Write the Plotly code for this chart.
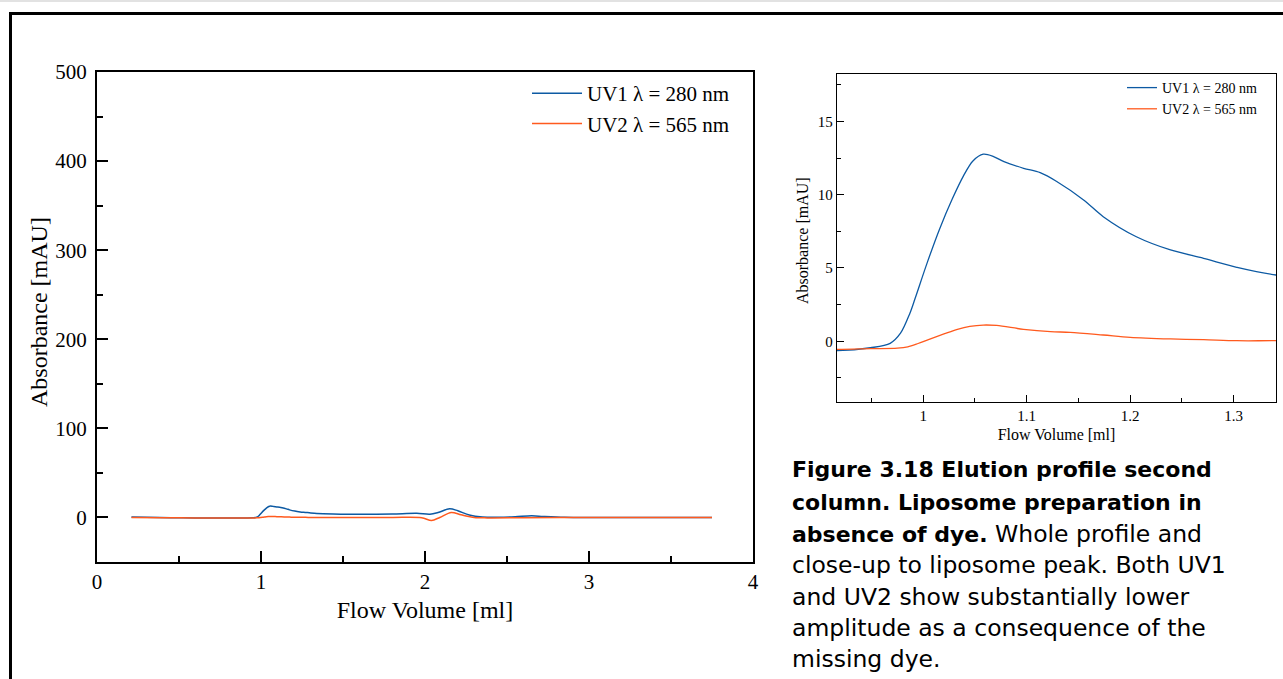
import plotly.graph_objects as go

# ---- data ----
uv1_x = [0.21, 0.30, 0.45, 0.60, 0.75, 0.90, 0.917, 0.949, 0.968, 0.978, 0.987, 0.992,
         1.004, 1.016, 1.028, 1.039, 1.048, 1.058, 1.068, 1.078, 1.097, 1.113, 1.129,
         1.155, 1.174, 1.206, 1.239, 1.271, 1.303, 1.341, 1.44, 1.60, 1.80, 1.95, 2.03,
         2.08, 2.15, 2.20, 2.27, 2.35, 2.45, 2.55, 2.65, 2.72, 2.85, 3.00, 3.30, 3.60, 3.75]
uv1_y = [0.4, 0.1, -0.3, -0.5, -0.6, -0.6, -0.64, -0.44, -0.14, 0.55, 1.9, 2.9,
         5.4, 7.7, 9.7, 11.3, 12.3, 12.76, 12.6, 12.25, 11.8, 11.5, 10.9,
         9.64, 8.5, 7.13, 6.23, 5.66, 5.05, 4.52, 4.0, 3.6, 3.9, 4.6, 3.6,
         5.5, 9.7, 7.5, 2.8, 0.6, 0.3, 0.8, 1.8, 1.2, 0.3, 0.0, -0.1, -0.1, -0.1]

uv2_x = [0.21, 0.40, 0.60, 0.80, 0.917, 0.949, 0.975, 0.985, 0.995, 1.005, 1.020,
         1.033, 1.045, 1.058, 1.071, 1.097, 1.123, 1.142, 1.174, 1.200, 1.239, 1.271,
         1.303, 1.341, 1.50, 1.80, 1.98, 2.04, 2.09, 2.16, 2.22, 2.30, 2.38, 2.60,
         3.00, 3.40, 3.75]
uv2_y = [0.0, -0.3, -0.5, -0.5, -0.55, -0.5, -0.47, -0.38, -0.15, 0.12, 0.5,
         0.82, 1.02, 1.11, 1.08, 0.82, 0.66, 0.61, 0.43, 0.27, 0.16, 0.11,
         0.04, 0.04, 0.0, 0.0, -0.3, -3.4, 0.0, 5.6, 3.0, 0.0, -0.5, -0.3,
         -0.1, -0.1, 0.0]

series_names = ["UV1 λ = 280 nm", "UV2 λ = 565 nm"]
x_title = "Flow Volume [ml]"
y_title = "Absorbance [mAU]"
B = '<span style="font-size:22px"><b>%s</b></span>'
caption_lines = [
    B % "Figure 3.18 Elution profile second",
    B % "column. Liposome preparation in",
    B % "absence of dye." + " Whole profile and",
    "close-up to liposome peak. Both UV1",
    "and UV2 show substantially lower",
    "amplitude as a consequence of the",
    "missing dye.",
]

BLUE = "#0d5aa3"
ORANGE = "#ff5a1e"
W, H = 1283, 679
SERIF = "Liberation Serif, Times New Roman, serif"
SANS = "DejaVu Sans, Liberation Sans, Arial, sans-serif"


def px_x(p):
    return p / W


def px_y(p):
    return (H - p) / H


fig = go.Figure()
for xs, ys, name, col in [(uv1_x, uv1_y, series_names[0], BLUE),
                          (uv2_x, uv2_y, series_names[1], ORANGE)]:
    fig.add_trace(go.Scatter(x=xs, y=ys, name=name, mode="lines",
                             line=dict(color=col, width=1.5, shape="spline", smoothing=0.9),
                             xaxis="x", yaxis="y", legend="legend"))
for xs, ys, name, col in [(uv1_x, uv1_y, series_names[0], BLUE),
                          (uv2_x, uv2_y, series_names[1], ORANGE)]:
    fig.add_trace(go.Scatter(x=xs, y=ys, name=name, mode="lines",
                             line=dict(color=col, width=1.3, shape="spline", smoothing=0.9),
                             xaxis="x2", yaxis="y2", legend="legend2"))

axis_common = dict(showline=True, linecolor="black", mirror=True, ticks="inside",
                   tickcolor="black", showgrid=False, zeroline=False, automargin=False)

fig.update_layout(
    width=W, height=H, autosize=False,
    margin=dict(l=0, r=0, t=0, b=0, pad=0, autoexpand=False),
    paper_bgcolor="white", plot_bgcolor="white",
    font=dict(family=SERIF, color="black"),
    xaxis=dict(domain=[px_x(97), px_x(753)], range=[0, 4], dtick=1, tick0=0,
               linewidth=2, ticklen=11, tickwidth=2,
               minor=dict(ticks="inside", dtick=0.5, ticklen=6, tickwidth=2, tickcolor="black"),
               tickfont=dict(size=21, family=SERIF),
               title=dict(text=x_title, font=dict(size=24, family=SERIF), standoff=8),
               anchor="y", **axis_common),
    yaxis=dict(domain=[px_y(562), px_y(72)], range=[-50, 500], dtick=100, tick0=0,
               linewidth=2, ticklen=11, tickwidth=2,
               minor=dict(ticks="inside", dtick=50, ticklen=6, tickwidth=2, tickcolor="black"),
               tickfont=dict(size=21, family=SERIF), ticklabelstandoff=4,
               anchor="x", **axis_common),
    xaxis2=dict(domain=[px_x(837), px_x(1276)], range=[0.9166, 1.341], dtick=0.1, tick0=1,
                linewidth=1.3, ticklen=7, tickwidth=1.2,
                minor=dict(ticks="inside", dtick=0.05, ticklen=4, tickwidth=1.2, tickcolor="black"),
                tickfont=dict(size=15, family=SERIF),
                title=dict(text=x_title, font=dict(size=16, family=SERIF), standoff=5),
                anchor="y2", **axis_common),
    yaxis2=dict(domain=[px_y(402.3), px_y(74)], range=[-4.16, 18.23], dtick=5, tick0=0,
                linewidth=1.3, ticklen=7, tickwidth=1.2,
                minor=dict(ticks="inside", dtick=2.5, ticklen=4, tickwidth=1.2, tickcolor="black"),
                tickfont=dict(size=15, family=SERIF),
                anchor="x2", **axis_common),
    legend=dict(x=px_x(527), y=px_y(73), xanchor="left", yanchor="top",
                bgcolor="rgba(0,0,0,0)", font=dict(size=21, family=SERIF),
                itemwidth=50, tracegroupgap=0),
    legend2=dict(x=px_x(1122), y=px_y(72), xanchor="left", yanchor="top",
                 bgcolor="rgba(0,0,0,0)", font=dict(size=14, family=SERIF),
                 tracegroupgap=0),
    showlegend=True,
)

# y-axis titles (rotated)
fig.add_annotation(text=y_title, xref="paper", yref="paper", x=px_x(39), y=px_y(312),
                   xanchor="center", yanchor="middle", textangle=-90, showarrow=False,
                   font=dict(size=24, family=SERIF, color="black"))
fig.add_annotation(text=y_title, xref="paper", yref="paper", x=px_x(803), y=px_y(241),
                   xanchor="center", yanchor="middle", textangle=-90, showarrow=False,
                   font=dict(size=16, family=SERIF, color="black"))

# outer frame and faint top rule
fig.add_shape(type="rect", xref="paper", yref="paper",
              x0=px_x(10.5), x1=px_x(W + 20), y0=px_y(H + 20), y1=px_y(13.5),
              line=dict(color="black", width=3), fillcolor="rgba(0,0,0,0)", layer="below")
fig.add_shape(type="line", xref="paper", yref="paper",
              x0=0, x1=1, y0=px_y(1), y1=px_y(1),
              line=dict(color="#e2e2e2", width=2))

# caption
baselines = [477.3, 510, 541.7, 573.3, 605, 635.5, 666.7]
for txt, b in zip(caption_lines, baselines):
    fig.add_annotation(text=txt, xref="paper", yref="paper",
                       x=px_x(790), y=px_y(b - 8), xanchor="left", yanchor="middle",
                       showarrow=False, align="left",
                       font=dict(size=23.5, family=SANS, color="black"))

fig.write_html("out.html")
